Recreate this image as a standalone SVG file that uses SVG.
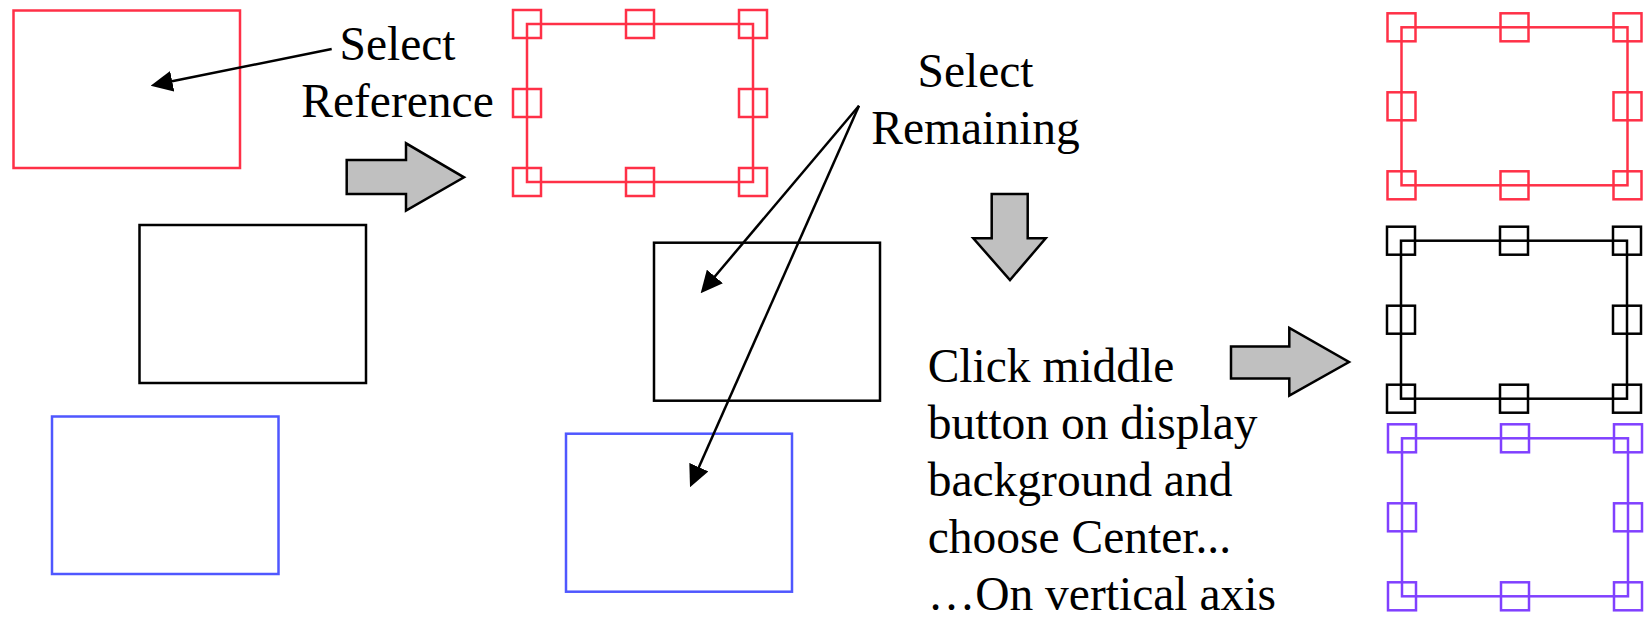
<svg xmlns="http://www.w3.org/2000/svg" xmlns:xlink="http://www.w3.org/1999/xlink" width="1644" height="617" viewBox="0 0 1644 617">
<style>
.box{fill:none;stroke-width:2.5}
.red{stroke:#ff3047}
.blk{stroke:#000}
.blu{stroke:#4f57ff}
.pur{stroke:#8040ff}
.blockarrow{fill:#c0c0c0;stroke:#000;stroke-width:2.5;stroke-linejoin:miter}
.conn{fill:none;stroke:#000;stroke-width:2.5}
text{font-family:"Liberation Serif","Times New Roman",serif;font-size:47.5px;fill:#000}
</style>
<defs>
<marker id="ah" viewBox="0 0 22 21" refX="4" refY="10.5" markerWidth="22" markerHeight="21" markerUnits="userSpaceOnUse" orient="auto">
<path d="M0,0 L22,10.5 L0,21 z" fill="#000"/>
</marker>
<g id="handles" fill="none" stroke-width="2.5">
<rect x="-14" y="-14" width="28" height="28"/>
<rect x="99" y="-14" width="28" height="28"/>
<rect x="212" y="-14" width="28" height="28"/>
<rect x="-14" y="65" width="28" height="28"/>
<rect x="212" y="65" width="28" height="28"/>
<rect x="-14" y="144" width="28" height="28"/>
<rect x="99" y="144" width="28" height="28"/>
<rect x="212" y="144" width="28" height="28"/>
</g>
</defs>

<g id="left-red"><rect class="box red" x="13.5" y="10.5" width="226.5" height="157.5"/></g>
<g id="left-black"><rect class="box blk" x="139.5" y="225" width="226.5" height="158"/></g>
<g id="left-blue"><rect class="box blu" x="52" y="416.5" width="226.5" height="157.5"/></g>

<g id="label-select-reference">
<text x="397.5" y="60" text-anchor="middle">Select</text>
<text x="397.5" y="117" text-anchor="middle">Reference</text>
</g>

<g id="arrow-1"><polygon class="blockarrow" points="346.7,160 406,160 406,143.3 464,177.3 406,210.7 406,194 346.7,194"/></g>

<g id="mid-red">
<rect class="box red" x="527" y="24" width="226" height="158"/>
<use xlink:href="#handles" href="#handles" x="527" y="24" stroke="#ff3047"/>
</g>
<g id="mid-black"><rect class="box blk" x="654" y="242.7" width="226" height="158"/></g>
<g id="mid-blue"><rect class="box blu" x="566" y="433.7" width="226" height="158"/></g>

<g id="label-select-remaining">
<text x="975.5" y="87" text-anchor="middle">Select</text>
<text x="975.5" y="144" text-anchor="middle">Remaining</text>
</g>

<g id="arrow-2"><polygon class="blockarrow" points="991.7,194 1027.7,194 1027.7,238.3 1045.7,238.3 1010,280 973.3,238.3 991.7,238.3"/></g>

<g id="label-click">
<text x="927.7" y="382">Click middle</text>
<text x="927.7" y="439">button on display</text>
<text x="927.7" y="496">background and</text>
<text x="927.7" y="553">choose Center...</text>
<text x="927.7" y="610">…On vertical axis</text>
</g>

<g id="arrow-3"><polygon class="blockarrow" points="1231,346.5 1289.3,346.5 1289.3,328 1349,362 1289.3,395.5 1289.3,378.5 1231,378.5"/></g>

<g id="right-red">
<rect class="box red" x="1401.5" y="27.3" width="226" height="158"/>
<use xlink:href="#handles" href="#handles" x="1401.5" y="27.3" stroke="#ff3047"/>
</g>
<g id="right-black">
<rect class="box blk" x="1401" y="240.7" width="226" height="158"/>
<use xlink:href="#handles" href="#handles" x="1401" y="240.7" stroke="#000"/>
</g>
<g id="right-purple">
<rect class="box pur" x="1402" y="438.3" width="226" height="158"/>
<use xlink:href="#handles" href="#handles" x="1402" y="438.3" stroke="#8040ff"/>
</g>

<g id="connectors">
<line class="conn" x1="331.7" y1="49" x2="168.3" y2="82.1" marker-end="url(#ah)"/>
<line class="conn" x1="859" y1="105.7" x2="712.3" y2="279.5" marker-end="url(#ah)"/>
<line class="conn" x1="859" y1="105.7" x2="697.3" y2="470.8" marker-end="url(#ah)"/>
</g>
</svg>
